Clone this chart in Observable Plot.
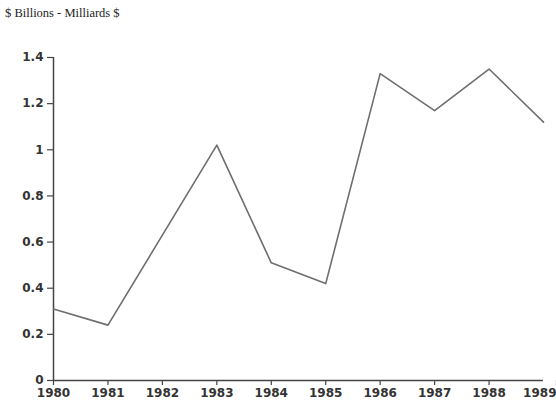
<!DOCTYPE html>
<html>
<head>
<meta charset="utf-8">
<script src="https://cdn.jsdelivr.net/npm/d3@7"></script>
<script src="https://cdn.jsdelivr.net/npm/@observablehq/plot@0.6"></script>
<style>
  html, body { margin: 0; padding: 0; background: #ffffff; }
  #title { height: 20px; font-family: "Liberation Serif", serif; font-size: 12.5px; color: #222; padding-left: 5px; line-height: 27px; white-space: nowrap; }
</style>
</head>
<body>
<div id="title">$ Billions - Milliards $</div>
<div id="chart"></div>
<script>
const years = [1980, 1981, 1982, 1983, 1984, 1985, 1986, 1987, 1988, 1989];
const values = [0.31, 0.24, 0.63, 1.02, 0.51, 0.42, 1.33, 1.17, 1.35, 1.12];
const yTicks = [0, 0.2, 0.4, 0.6, 0.8, 1, 1.2, 1.4];

const data = years.map((y, i) => ({year: y, value: values[i]}));
const firstYears = years.slice(0, -1);
const lastYear = years.slice(-1);

const chart = Plot.plot({
  width: 556,
  height: 390,
  marginTop: 37,
  marginBottom: 30,
  marginLeft: 53,
  marginRight: 13,
  style: {fontFamily: "'DejaVu Sans', sans-serif", fontSize: "12px", fontWeight: "bold", color: "#333", background: "transparent"},
  x: {domain: [years[0], years[years.length - 1]]},
  y: {domain: [0, 1.4]},
  marks: [
    Plot.axisY({ticks: yTicks, tickFormat: d => String(d), tickSize: 6, tickPadding: 4, label: null, stroke: "#444", strokeWidth: 1.2, strokeOpacity: 1}),
    Plot.axisX({ticks: firstYears, tickFormat: d => String(d), tickSize: 5, tickPadding: 3, label: null, stroke: "#444", strokeWidth: 1.2, strokeOpacity: 1}),
    Plot.axisX({ticks: lastYear, tickFormat: d => String(d), tickSize: 5, tickPadding: 3, label: null, stroke: "#444", strokeWidth: 1.2, strokeOpacity: 1, textAnchor: "end", dx: 13}),
    Plot.ruleX([years[0]], {y1: 0, y2: 1.4, stroke: "#444", strokeWidth: 1.5}),
    Plot.ruleY([0], {x1: years[0], x2: years[years.length - 1], stroke: "#444", strokeWidth: 1.5}),
    Plot.line(data, {x: "year", y: "value", stroke: "#6e6e6e", strokeWidth: 1.6})
  ]
});
document.getElementById("chart").appendChild(chart);
</script>
</body>
</html>
